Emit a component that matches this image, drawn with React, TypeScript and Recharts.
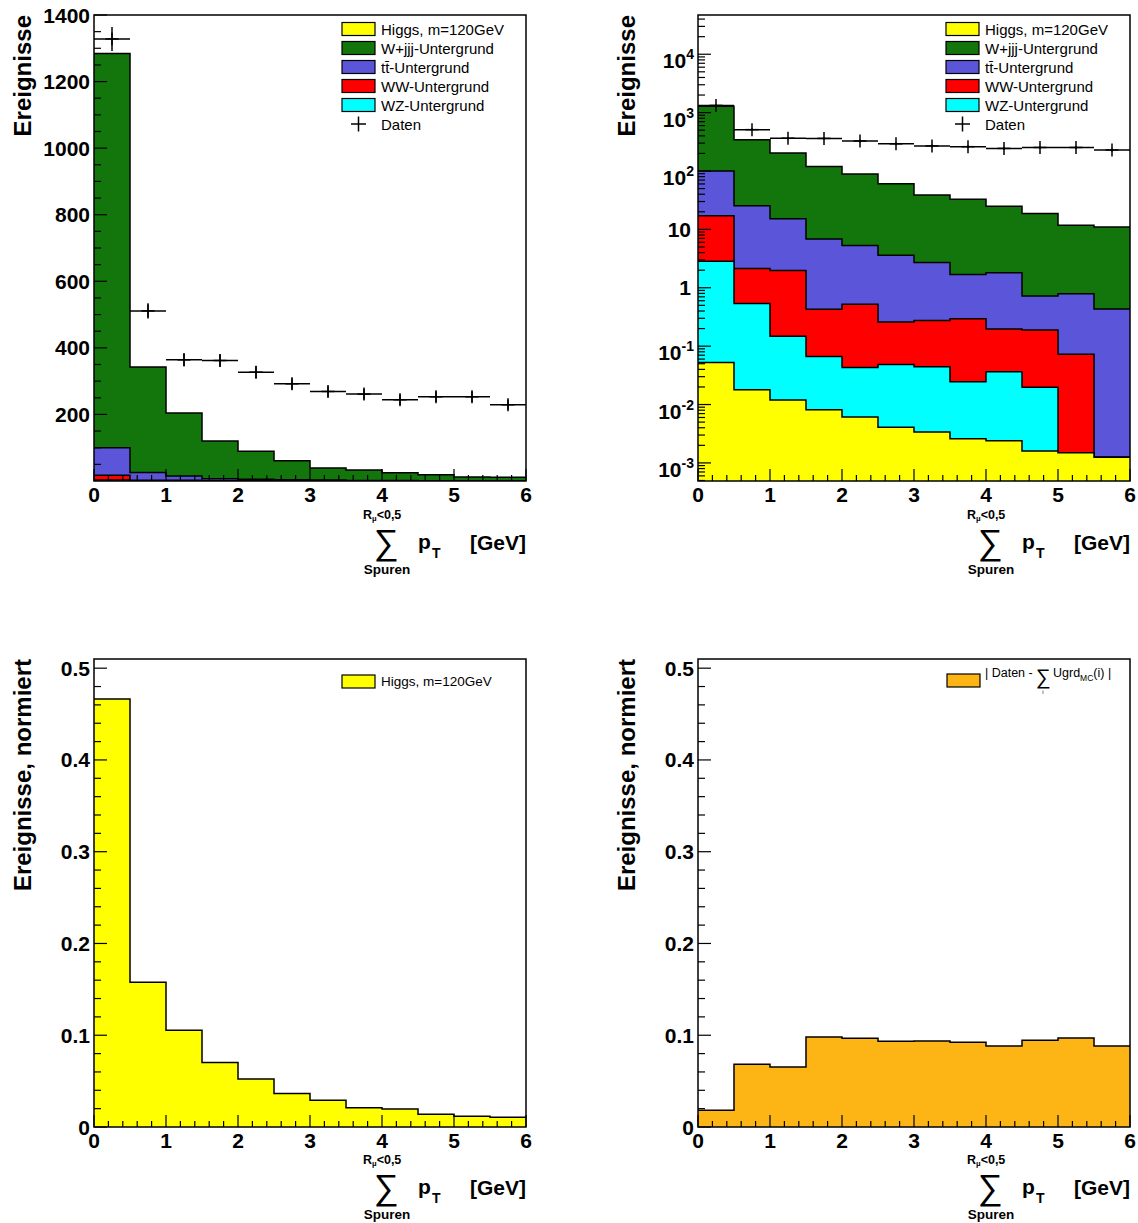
import React from 'react';
import { ComposedChart, Area, Scatter, XAxis, YAxis, ErrorBar, ReferenceArea } from 'recharts';

// ---------- data (12 bins of 0.5 GeV, 0..6) ----------
const binEdges = [0, 0.5, 1, 1.5, 2, 2.5, 3, 3.5, 4, 4.5, 5, 5.5, 6];
const binCenters = [0.25, 0.75, 1.25, 1.75, 2.25, 2.75, 3.25, 3.75, 4.25, 4.75, 5.25, 5.75];

// per-process event counts (stack order bottom -> top)
const higgs = [0.0525, 0.018, 0.0119, 0.0081, 0.0061, 0.0041, 0.0034, 0.0026, 0.0024, 0.0016, 0.0015, 0.00125];
const wz = [2.8, 0.522, 0.136, 0.0584, 0.037, 0.0444, 0.0409, 0.0219, 0.034, 0.0181, 0, 0];
const ww = [14.3, 1.6, 1.83, 0.36, 0.48, 0.21, 0.23, 0.27, 0.16, 0.17, 0.071, 0];
const ttbar = [83, 23.3, 13.2, 6.4, 4.75, 3.35, 2.43, 1.4, 1.61, 0.53, 0.72, 0.43];
const wjjj = [1184, 317, 189, 113, 84, 57, 36, 31, 23, 18, 11, 10.6];

const daten = [1328, 511, 364, 362, 327, 292, 269, 261, 244, 253, 253, 229];
const datenErr = [36, 23, 19, 19, 18, 17, 16, 16, 16, 16, 16, 15];

const higgsNorm = [0.4665, 0.1578, 0.1055, 0.0702, 0.0524, 0.0364, 0.0291, 0.0211, 0.0196, 0.0138, 0.0116, 0.0105];
const diffNorm = [0.0182, 0.0684, 0.0655, 0.0982, 0.0967, 0.0935, 0.0938, 0.0924, 0.0884, 0.0945, 0.0971, 0.0884];

// ---------- ticks ----------
const xMajorTicks = [0, 1, 2, 3, 4, 5, 6];
const linMajorTicks = [200, 400, 600, 800, 1000, 1200, 1400];
const normMajorTicks = [0, 0.1, 0.2, 0.3, 0.4, 0.5];

const xTicks: number[] = [];
for (let i = 0; i <= 30; i++) xTicks.push(Math.round(i * 0.2 * 100) / 100);
const linTicks: number[] = [];
for (let v = 50; v <= 1400; v += 50) linTicks.push(v);
const normTicks: number[] = [];
for (let i = 0; i <= 25; i++) normTicks.push(Math.round(i * 0.02 * 1000) / 1000);
const logTicks: number[] = [];
[0.0001, 0.001, 0.01, 0.1, 1, 10, 100, 1000, 10000].forEach((d) => {
  for (let m = 1; m <= 9; m++) {
    const v = parseFloat((d * m).toPrecision(6));
    if (v >= 4.9e-4 && v <= 4.7e4) logTicks.push(v);
  }
});

// ---------- colours / fonts ----------
const FONT = '"Liberation Sans", Arial, Helvetica, sans-serif';
const YELLOW = '#ffff00';
const GREEN = '#12760c';
const BLUE = '#5a55d9';
const RED = '#ff0000';
const CYAN = '#00ffff';
const ORANGE = '#fdb515';

// ---------- tables built from arrays ----------
const last = higgs.length - 1;
const stackRows = binEdges.map((x, i) => {
  const k = Math.min(i, last);
  const h = higgs[k];
  const z = h + wz[k];
  const w = z + ww[k];
  const t = w + ttbar[k];
  const all = t + wjjj[k];
  return { x, higgs: h, wz: z, ww: w, tt: t, all };
});
const normRows = binEdges.map((x, i) => {
  const k = Math.min(i, last);
  return { x, higgsNorm: higgsNorm[k], diffNorm: diffNorm[k] };
});
const datenRows = binCenters.map((x, i) => ({ x, y: daten[i], ex: 0.25, ey: datenErr[i] }));

// ---------- tick renderers ----------
const near = (a: number, b: number) => Math.abs(a - b) < 1e-9 + 1e-6 * Math.abs(b);

const xTick = (props: any) => {
  const { x, y, payload } = props;
  const v = payload.value;
  const major = xMajorTicks.some((m) => near(v, m));
  return (
    <g>
      <line x1={x} x2={x} y1={y} y2={y - (major ? 12 : 6)} stroke="#000" strokeWidth={1.2} />
      {major && (
        <text x={x} y={y + 21} textAnchor="middle" fontFamily={FONT} fontWeight="bold" fontSize={21} fill="#000">
          {String(v)}
        </text>
      )}
    </g>
  );
};

const makeLinYTick = (majors: number[], fmt: (v: number) => string) => (props: any) => {
  const { x, y, payload } = props;
  const v = payload.value;
  const major = majors.some((m) => near(v, m));
  return (
    <g>
      <line x1={x} x2={x + (major ? 13 : 7)} y1={y} y2={y} stroke="#000" strokeWidth={1.2} />
      {major && (
        <text x={x - 4} y={y + 7.5} textAnchor="end" fontFamily={FONT} fontWeight="bold" fontSize={21} fill="#000">
          {fmt(v)}
        </text>
      )}
    </g>
  );
};

const logYTick = (props: any) => {
  const { x, y, payload } = props;
  const v = payload.value;
  const e = Math.round(Math.log10(v));
  const major = Math.abs(Math.log10(v) - e) < 1e-6;
  let label: React.ReactNode = null;
  if (major) {
    if (e === 0 || e === 1) {
      label = (
        <text x={x - 7} y={y + 7.5} textAnchor="end" fontFamily={FONT} fontWeight="bold" fontSize={21} fill="#000">
          {e === 0 ? '1' : '10'}
        </text>
      );
    } else {
      label = (
        <text x={x - 4} y={y + 14} textAnchor="end" fontFamily={FONT} fontWeight="bold" fontSize={21} fill="#000">
          10
          <tspan fontSize={14} dy={-9}>{String(e)}</tspan>
        </text>
      );
    }
  }
  return (
    <g>
      <line x1={x} x2={x + (major ? 13 : 7)} y1={y} y2={y} stroke="#000" strokeWidth={1.2} />
      {label}
    </g>
  );
};

const linYTick = makeLinYTick(linMajorTicks, (v) => String(v));
const normYTick = makeLinYTick(normMajorTicks, (v) => (v === 0 ? '0' : v.toFixed(1)));

// "+" marker of the data points
const crossShape = (props: any) => {
  const { cx, cy } = props;
  if (cx == null || cy == null) return <g />;
  return (
    <g stroke="#000" strokeWidth={1.5}>
      <line x1={cx} x2={cx} y1={cy - 6.5} y2={cy + 6.5} />
      <line x1={cx - 6.5} x2={cx + 6.5} y1={cy} y2={cy} />
    </g>
  );
};

// ---------- panels ----------
const CH_W = 560;
const CH_H = 600;

function StackPanel({ log }: { log: boolean }) {
  const yDomain: [number, number] = log ? [4.9e-4, 4.7e4] : [0, 1400];
  const areaProps = {
    type: 'stepAfter' as const,
    stroke: '#000',
    strokeWidth: 1.5,
    fillOpacity: 1,
    isAnimationActive: false,
    dot: false,
    activeDot: false,
  };
  return (
    <ComposedChart width={CH_W} height={CH_H} data={stackRows} margin={{ top: 15, right: 34, bottom: 89, left: 14 }}>
      <Area dataKey="all" fill={GREEN} {...areaProps} />
      <Area dataKey="tt" fill={BLUE} {...areaProps} />
      <Area dataKey="ww" fill={RED} {...areaProps} />
      <Area dataKey="wz" fill={CYAN} {...areaProps} />
      <Area dataKey="higgs" fill={YELLOW} {...areaProps} />
      <Scatter data={datenRows} dataKey="y" shape={crossShape} isAnimationActive={false}>
        <ErrorBar dataKey="ex" direction="x" width={0} stroke="#000" strokeWidth={1.5} isAnimationActive={false} />
        <ErrorBar dataKey="ey" direction="y" width={0} stroke="#000" strokeWidth={1.5} isAnimationActive={false} />
      </Scatter>
      <XAxis
        dataKey="x"
        type="number"
        domain={[0, 6]}
        allowDataOverflow
        ticks={xTicks}
        interval={0}
        tick={xTick}
        tickSize={0}
        tickMargin={0}
        tickLine={false}
        axisLine={false}
        height={30}
      />
      {log ? (
        <YAxis
          type="number"
          scale="log"
          domain={yDomain}
          allowDataOverflow
          ticks={logTicks}
          interval={0}
          tick={logYTick}
          tickSize={0}
          tickMargin={0}
          tickLine={false}
          axisLine={false}
          width={80}
        />
      ) : (
        <YAxis
          type="number"
          domain={yDomain}
          allowDataOverflow
          ticks={linTicks}
          interval={0}
          tick={linYTick}
          tickSize={0}
          tickMargin={0}
          tickLine={false}
          axisLine={false}
          width={80}
        />
      )}
      <ReferenceArea x1={0} x2={6} y1={yDomain[0]} y2={yDomain[1]} fill="none" fillOpacity={0} stroke="#000" strokeWidth={1.5} ifOverflow="visible" />
    </ComposedChart>
  );
}

function NormPanel({ dataKey, color }: { dataKey: string; color: string }) {
  const yDomain: [number, number] = [0, 0.51];
  return (
    <ComposedChart width={CH_W} height={CH_H} data={normRows} margin={{ top: 15, right: 34, bottom: 87, left: 14 }}>
      <XAxis
        dataKey="x"
        type="number"
        domain={[0, 6]}
        allowDataOverflow
        ticks={xTicks}
        interval={0}
        tick={xTick}
        tickSize={0}
        tickMargin={0}
        tickLine={false}
        axisLine={false}
        height={30}
      />
      <YAxis
        type="number"
        domain={yDomain}
        allowDataOverflow
        ticks={normTicks}
        interval={0}
        tick={normYTick}
        tickSize={0}
        tickMargin={0}
        tickLine={false}
        axisLine={false}
        width={80}
      />
      <Area
        dataKey={dataKey}
        type="stepAfter"
        fill={color}
        fillOpacity={1}
        stroke="#000"
        strokeWidth={1.5}
        isAnimationActive={false}
        dot={false}
        activeDot={false}
      />
      <ReferenceArea x1={0} x2={6} y1={yDomain[0]} y2={yDomain[1]} fill="none" fillOpacity={0} stroke="#000" strokeWidth={1.5} ifOverflow="visible" />
    </ComposedChart>
  );
}

// ---------- overlay texts ----------
function XTitle({ dx, dy }: { dx: number; dy: number }) {
  const b = { fontFamily: FONT, fontWeight: 'bold' as const, fill: '#000' };
  return (
    <g transform={`translate(${dx},${dy})`}>
      <text x={363} y={519} fontSize={12.5} {...b}>
        R<tspan fontSize={8} dy={1.5}>µ</tspan>
        <tspan dy={-1.5}>{'<0,5'}</tspan>
      </text>
      <text x={386} y={554} fontSize={35} textAnchor="middle" fontFamily={FONT} fill="#000">
        ∑
      </text>
      <text x={387} y={573.5} fontSize={13.5} textAnchor="middle" {...b}>
        Spuren
      </text>
      <text x={418} y={549} fontSize={21} {...b}>
        p
      </text>
      <text x={432} y={558} fontSize={14} {...b}>
        T
      </text>
      <text x={470} y={550} fontSize={21} {...b}>
        [GeV]
      </text>
    </g>
  );
}

function YTitle({ x, yEnd, text }: { x: number; yEnd: number; text: string }) {
  return (
    <text
      transform={`translate(${x},${yEnd}) rotate(-90)`}
      x={0}
      y={0}
      textAnchor="end"
      fontFamily={FONT}
      fontWeight="bold"
      fontSize={24}
      fill="#000"
    >
      {text}
    </text>
  );
}

const legendLabels = ['Higgs, m=120GeV', 'W+jjj-Untergrund', 'tt̄-Untergrund', 'WW-Untergrund', 'WZ-Untergrund', 'Daten'];
const legendColors = [YELLOW, GREEN, BLUE, RED, CYAN];

function StackLegend({ dx }: { dx: number }) {
  const rowY = (i: number) => 29 + i * 19;
  return (
    <g transform={`translate(${dx},0)`}>
      {legendLabels.map((lab, i) => (
        <g key={lab}>
          {i < 5 ? (
            <rect x={342} y={rowY(i) - 6.5} width={33} height={13} fill={legendColors[i]} stroke="#000" strokeWidth={1.2} />
          ) : (
            <g stroke="#000" strokeWidth={1.5}>
              <line x1={351} x2={366} y1={rowY(i)} y2={rowY(i)} />
              <line x1={358.5} x2={358.5} y1={rowY(i) - 7.5} y2={rowY(i) + 7.5} />
            </g>
          )}
          <text x={381} y={rowY(i) + 5.5} fontFamily={FONT} fontSize={15} fill="#000">
            {lab}
          </text>
        </g>
      ))}
    </g>
  );
}

function Overlay() {
  const f = { fontFamily: FONT, fill: '#000' };
  return (
    <svg width={1138} height={1223} style={{ position: 'absolute', left: 0, top: 0, pointerEvents: 'none' }}>
      <YTitle x={31} yEnd={15} text="Ereignisse" />
      <YTitle x={635} yEnd={15} text="Ereignisse" />
      <YTitle x={31} yEnd={659} text="Ereignisse, normiert" />
      <YTitle x={635} yEnd={659} text="Ereignisse, normiert" />
      <XTitle dx={0} dy={0} />
      <XTitle dx={604} dy={0} />
      <XTitle dx={0} dy={645} />
      <XTitle dx={604} dy={645} />
      <StackLegend dx={0} />
      <StackLegend dx={604} />
      {/* bottom-left legend */}
      <rect x={342} y={675} width={33} height={13} fill={YELLOW} stroke="#000" strokeWidth={1.2} />
      <text x={381} y={686} fontSize={13.5} {...f}>
        Higgs, m=120GeV
      </text>
      {/* bottom-right legend */}
      <rect x={947} y={674} width={33} height={13} fill={ORANGE} stroke="#000" strokeWidth={1.2} />
      <text x={985} y={677} fontSize={12.5} {...f}>
        | Daten -
      </text>
      <text x={1043} y={684} fontSize={21} textAnchor="middle" {...f}>
        ∑
      </text>
      <text x={1043} y={694} fontSize={6} textAnchor="middle" {...f}>
        i
      </text>
      <text x={1053} y={677} fontSize={12.5} {...f}>
        Ugrd<tspan fontSize={8.5} dy={4}>MC</tspan>
        <tspan dy={-4}>(i) |</tspan>
      </text>
    </svg>
  );
}

export default function App() {
  return (
    <div style={{ position: 'absolute', left: 0, top: 0, width: 1138, height: 1223, background: '#fff', fontFamily: FONT }}>
      <div style={{ position: 'absolute', left: 0, top: 0 }}>
        <StackPanel log={false} />
      </div>
      <div style={{ position: 'absolute', left: 604, top: 0 }}>
        <StackPanel log={true} />
      </div>
      <div style={{ position: 'absolute', left: 0, top: 644 }}>
        <NormPanel dataKey="higgsNorm" color={YELLOW} />
      </div>
      <div style={{ position: 'absolute', left: 604, top: 644 }}>
        <NormPanel dataKey="diffNorm" color={ORANGE} />
      </div>
      <Overlay />
    </div>
  );
}
